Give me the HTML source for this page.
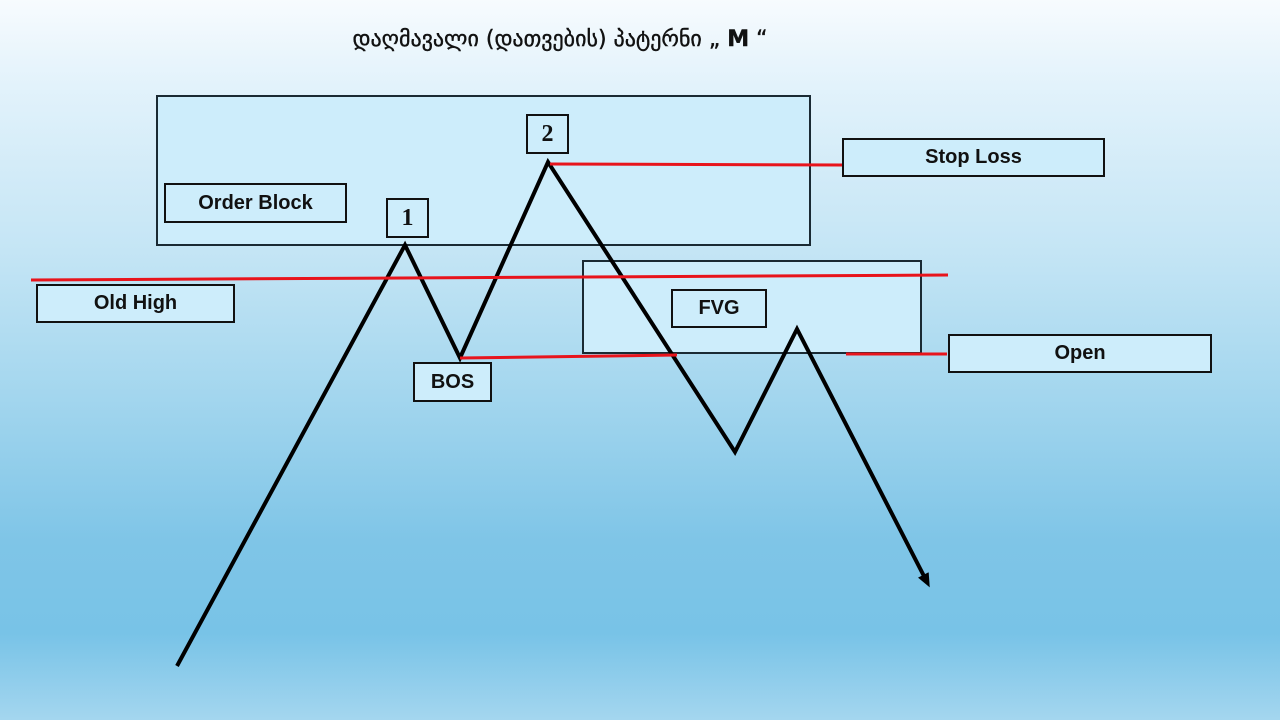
<!DOCTYPE html>
<html><head><meta charset="utf-8"><style>
html,body{margin:0;padding:0}
body{width:1280px;height:720px;position:relative;overflow:hidden;
background:linear-gradient(180deg,#f7fbfe 0%,#e2f2fb 12%,#c4e5f5 35%,#a3d6ee 55%,#7fc5e7 75%,#78c3e7 88%,#a4d6ef 100%);
font-family:"Liberation Sans","DejaVu Sans",sans-serif}
.r{position:absolute;box-sizing:border-box;border:2px solid #1a2a33;background:#cdedfb}
.l{position:absolute;box-sizing:border-box;border:2px solid #111;background:#cdedfb;display:flex;align-items:center;justify-content:center;font-weight:bold;font-size:20px;color:#111}
.n{font-family:"Liberation Serif",serif;font-size:24px}
.t{position:absolute;left:340px;top:27px;width:440px;text-align:center;font-size:22px;font-family:"DejaVu Sans","Liberation Sans",sans-serif;color:#111;-webkit-text-stroke:0.4px #111}
</style></head><body>
<div class="t">დაღმავალი (დათვების) პატერნი „ <b>M</b> “</div>
<div class="r" style="left:156px;top:95px;width:655px;height:151px"></div>
<div class="r" style="left:582px;top:260px;width:340px;height:94px"></div>
<svg style="position:absolute;left:0;top:0" width="1280" height="720">
<defs><marker id="a" markerWidth="14" markerHeight="12" refX="8" refY="6" orient="auto" markerUnits="userSpaceOnUse"><path d="M0,0 L14,6 L0,12 z" fill="#000"/></marker></defs>
<polyline points="177,666 405,245 460,358 548,162 735,452 797,329 927,582" fill="none" stroke="#000" stroke-width="4" marker-end="url(#a)"/>
<g stroke="#e8141c" stroke-width="3">
<line x1="31" y1="280" x2="948" y2="275"/>
<line x1="460" y1="358" x2="677" y2="355"/>
<line x1="550" y1="164" x2="842" y2="165"/>
<line x1="846" y1="354" x2="947" y2="354"/>
</g></svg>
<div class="l" style="left:164px;top:183px;width:183px;height:40px">Order Block</div>
<div class="l n" style="left:386px;top:198px;width:43px;height:40px">1</div>
<div class="l n" style="left:526px;top:114px;width:43px;height:40px">2</div>
<div class="l" style="left:842px;top:138px;width:263px;height:39px">Stop Loss</div>
<div class="l" style="left:36px;top:284px;width:199px;height:39px">Old High</div>
<div class="l" style="left:413px;top:362px;width:79px;height:40px">BOS</div>
<div class="l" style="left:671px;top:289px;width:96px;height:39px">FVG</div>
<div class="l" style="left:948px;top:334px;width:264px;height:39px">Open</div>
</body></html>
